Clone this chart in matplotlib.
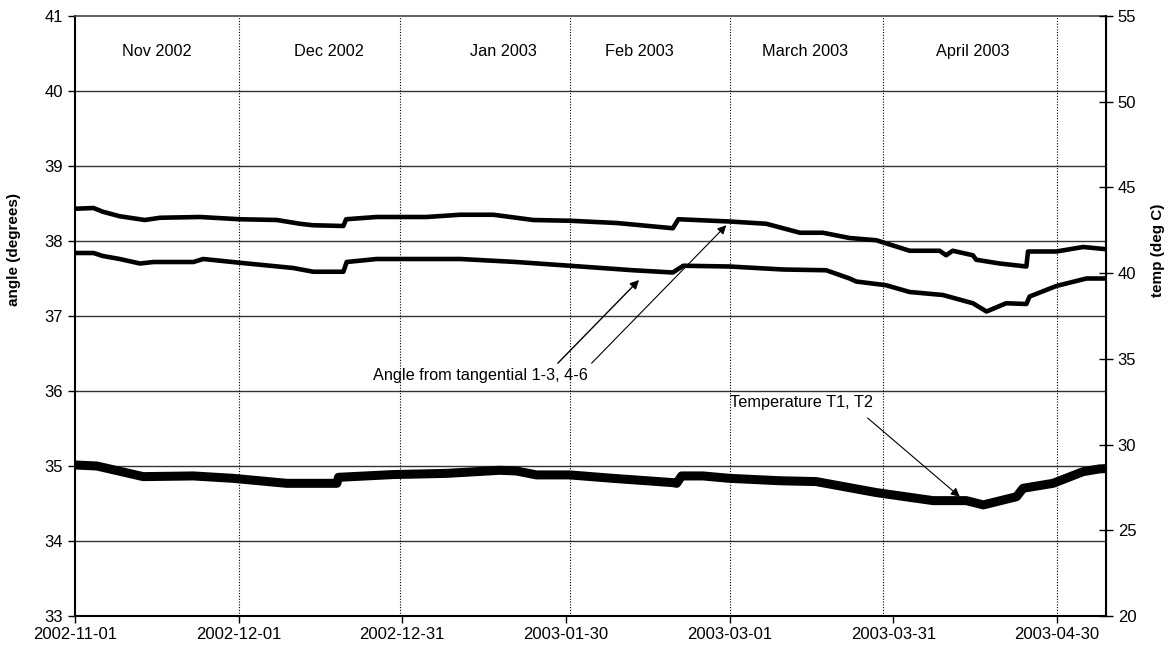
import matplotlib
matplotlib.use("Agg")
import matplotlib.pyplot as plt
import matplotlib.dates as mdates
import datetime as dt

plt.rcParams['font.family'] = ['Liberation Sans', 'DejaVu Sans']

START = dt.datetime(2002, 11, 1)

# ---- data (day offset from 2002-11-01, value) ----
angle_upper_days = [0, 3.4, 5.1, 8.2, 12.8, 15.6, 22.9, 30.2, 37.0, 41.2, 43.6, 49.2, 49.7,
                    55.3, 64.4, 70.6, 76.7, 84.0, 90.7, 99.3, 109.6, 110.6, 120.0, 126.7,
                    132.9, 137.1, 142.0, 146.9, 153.0, 158.5, 159.7, 160.9, 164.6, 165.2,
                    169.5, 174.4, 174.7, 179.9, 184.8, 189.1]
angle_upper = [38.43, 38.44, 38.39, 38.33, 38.28, 38.31, 38.32, 38.29, 38.28, 38.23, 38.21, 38.20, 38.29,
               38.32, 38.32, 38.35, 38.35, 38.28, 38.27, 38.24, 38.17, 38.29, 38.26, 38.23,
               38.11, 38.11, 38.04, 38.01, 37.87, 37.87, 37.81, 37.87, 37.81, 37.75,
               37.70, 37.66, 37.86, 37.86, 37.92, 37.89]

angle_lower_days = [0, 3.4, 5.1, 8.2, 11.9, 14.4, 21.7, 23.5, 30.2, 40.0, 43.7, 49.2, 49.8,
                    55.3, 70.6, 80.9, 90.7, 102.3, 109.6, 111.5, 120.0, 129.8, 137.7,
                    142.0, 143.2, 148.7, 153.0, 159.1, 164.6, 167.1, 170.7, 174.4, 175.0,
                    179.9, 185.4, 189.1]
angle_lower = [37.84, 37.84, 37.80, 37.76, 37.70, 37.72, 37.72, 37.76, 37.71, 37.64, 37.59, 37.59, 37.72,
               37.76, 37.76, 37.72, 37.67, 37.61, 37.58, 37.67, 37.66, 37.62, 37.61,
               37.50, 37.46, 37.41, 37.32, 37.28, 37.17, 37.06, 37.17, 37.16, 37.26,
               37.40, 37.50, 37.50]

temp_days = [0, 4.0, 12.5, 21.7, 29.0, 38.8, 48.0, 48.3, 58.3, 68.1, 77.9, 80.9, 84.6,
             90.7, 98.6, 109.6, 110.3, 111.2, 115.1, 120.0, 129.2, 135.9, 146.9, 157.3,
             163.4, 166.5, 172.6, 173.8, 179.3, 184.8, 187.8, 189.1]
temp = [28.81, 28.75, 28.13, 28.17, 28.03, 27.74, 27.74, 28.09, 28.25, 28.32, 28.50, 28.46, 28.23,
        28.23, 28.03, 27.78, 27.74, 28.17, 28.17, 28.03, 27.89, 27.84, 27.20, 26.73,
        26.73, 26.48, 26.96, 27.45, 27.74, 28.42, 28.58, 28.60]

month_labels = ["Nov 2002", "Dec 2002", "Jan 2003", "Feb 2003", "March 2003", "April 2003"]
month_label_days = [15.0, 46.5, 78.6, 103.4, 133.8, 164.6]
divider_days = [30.0, 59.6, 90.7, 120.0, 148.1, 180.0]

tick_dates = [START + dt.timedelta(days=30 * k) for k in range(7)]


def to_dates(days):
    return [START + dt.timedelta(days=d) for d in days]


fig = plt.figure(figsize=(11.7, 6.52), dpi=100)
ax = fig.add_axes([75 / 1170, 1 - 616 / 652, (1106 - 75) / 1170, 600 / 652])
ax2 = ax.twinx()
ax2.set_zorder(ax.get_zorder() + 1)
ax2.patch.set_visible(False)

ax.set_xlim(START, START + dt.timedelta(days=189))
ax.set_ylim(33, 41)
ax2.set_ylim(20, 55)

# grid lines
for v in range(34, 41):
    ax.axhline(v, color='#333333', lw=1.0, zorder=1)
for d in divider_days:
    ax.axvline(START + dt.timedelta(days=d), color='black', lw=0.8, ls=(0, (1, 1.5)), zorder=1)

ax.plot(to_dates(angle_upper_days), angle_upper, color='black', lw=3.3, zorder=3,
        solid_joinstyle='round')
ax.plot(to_dates(angle_lower_days), angle_lower, color='black', lw=3.3, zorder=3,
        solid_joinstyle='round')
ax2.plot(to_dates(temp_days), temp, color='black', lw=6.5, zorder=3, solid_joinstyle='round')

ax.set_xticks(tick_dates)
ax.xaxis.set_major_formatter(mdates.DateFormatter('%Y-%m-%d'))
ax.set_yticks(range(33, 42))
ax2.set_yticks(range(20, 56, 5))

ax.tick_params(axis='both', labelsize=12, direction='out', length=5, width=1, colors='black')
ax2.tick_params(axis='y', labelsize=12, direction='inout', length=10, width=1)
ax.tick_params(axis='x', pad=3)

for s in ['left', 'bottom']:
    ax.spines[s].set_linewidth(1.5)
ax.spines['top'].set_color('#444444')
ax.spines['top'].set_linewidth(1.2)
ax2.spines['right'].set_linewidth(1.5)
ax2.spines['top'].set_visible(False)
ax2.spines['left'].set_visible(False)
ax2.spines['bottom'].set_visible(False)

ax.set_ylabel('angle (degrees)', fontsize=11, fontweight='bold')
ax.yaxis.set_label_coords(-0.052, 0.61)
ax2.set_ylabel('temp (deg C)', fontsize=11, fontweight='bold', rotation=90)
ax2.yaxis.set_label_coords(1.0435, 0.61)

for lbl, d in zip(month_labels, month_label_days):
    ax.text(START + dt.timedelta(days=d), 40.53, lbl, ha='center', va='center', fontsize=11.7)

# annotations
ax.text(START + dt.timedelta(days=54.6), 36.21, 'Angle from tangential 1-3, 4-6',
        ha='left', va='center', fontsize=11.7, zorder=5)
ap = dict(arrowstyle='-|>', color='black', lw=1.0, mutation_scale=13, shrinkA=0, shrinkB=0)
ax.annotate('', xy=(START + dt.timedelta(days=103.4), 37.48),
            xytext=(START + dt.timedelta(days=88.5), 36.37), arrowprops=ap, zorder=5)
ax.annotate('', xy=(START + dt.timedelta(days=119.4), 38.21),
            xytext=(START + dt.timedelta(days=94.7), 36.37),
            arrowprops=dict(ap, lw=0.8), zorder=5)

ax.text(START + dt.timedelta(days=120.0), 35.84, 'Temperature T1, T2',
        ha='left', va='center', fontsize=11.7, zorder=5)
ax.annotate('', xy=(START + dt.timedelta(days=162.2), 34.59),
            xytext=(START + dt.timedelta(days=145.3), 35.64), arrowprops=dict(ap, lw=0.8), zorder=5)

fig.savefig('out.png', dpi=100)
